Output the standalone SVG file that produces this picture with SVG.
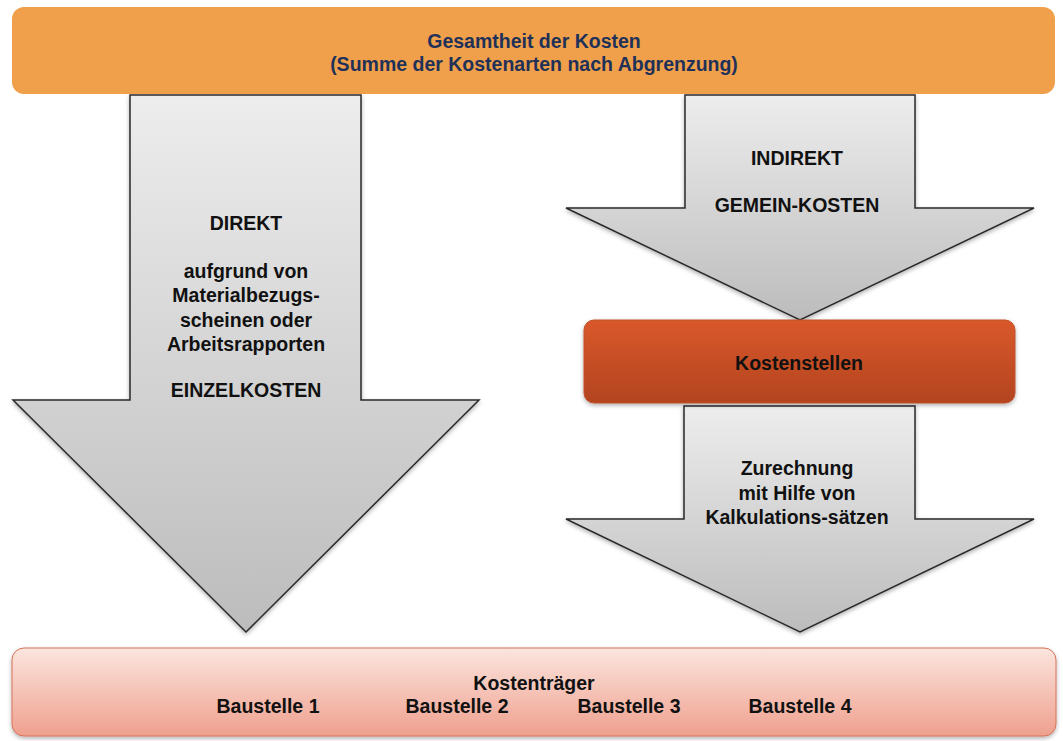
<svg xmlns="http://www.w3.org/2000/svg" width="1063" height="741" viewBox="0 0 1063 741">
<defs>
<linearGradient id="gArrow" x1="0" y1="0" x2="0" y2="1"><stop offset="0" stop-color="#EDEDED"/><stop offset="1" stop-color="#BCBCBC"/></linearGradient>
<linearGradient id="gKs" x1="0" y1="0" x2="0" y2="1"><stop offset="0" stop-color="#D9582B"/><stop offset="1" stop-color="#B3441F"/></linearGradient>
<linearGradient id="gKt" x1="0" y1="0" x2="0" y2="1"><stop offset="0" stop-color="#FBE5DE"/><stop offset="1" stop-color="#EFA08E"/></linearGradient>
<filter id="sh" x="-10%" y="-10%" width="120%" height="130%"><feDropShadow dx="0" dy="2" stdDeviation="2" flood-color="#000" flood-opacity="0.3"/></filter>
</defs>
<style>
.t{font-family:"Liberation Sans",Arial,sans-serif;font-weight:bold;font-size:19.5px;text-anchor:middle;fill:#111}
.top{fill:#1F3158}
.arrow{fill:url(#gArrow);stroke:#2a2a2a;stroke-width:1.5;filter:url(#sh)}
</style>
<rect width="1063" height="741" fill="#fff"/>
<g id="arrows">
<path class="arrow" d="M130,95 H361 V400 H479 L246,632 L13,400 H130 Z"/>
<path class="arrow" d="M685,95 H915 V208 H1034 L800,320 L566,208 H685 Z"/>
<path class="arrow" d="M684,406 H915 V519 H1034 L800,632 L566,519 H684 Z"/>
</g>
<g id="gesamt">
<rect x="12" y="7" width="1043" height="87" rx="12" fill="#F0A04B"/>
<text class="t top" x="534" y="48">Gesamtheit der Kosten</text>
<text class="t top" x="534" y="71">(Summe der Kostenarten nach Abgrenzung)</text>
</g>
<g id="direkt">
<text class="t" x="246" y="230">DIREKT</text>
<text class="t" x="246" y="278">aufgrund von</text>
<text class="t" x="246" y="302">Materialbezugs-</text>
<text class="t" x="246" y="327">scheinen oder</text>
<text class="t" x="246" y="351">Arbeitsrapporten</text>
<text class="t" x="246" y="397">EINZELKOSTEN</text>
</g>
<g id="indirekt">
<text class="t" x="797" y="165">INDIREKT</text>
<text class="t" x="797" y="212">GEMEIN-KOSTEN</text>
</g>
<g id="kostenstellen">
<rect x="584" y="320" width="431" height="83" rx="10" fill="url(#gKs)" stroke="#C0502A" stroke-width="1" filter="url(#sh)"/>
<text class="t" x="799" y="370">Kostenstellen</text>
</g>
<g id="zurechnung">
<text class="t" x="797" y="475">Zurechnung</text>
<text class="t" x="797" y="500">mit Hilfe von</text>
<text class="t" x="797" y="524">Kalkulations-sätzen</text>
</g>
<g id="kostentraeger">
<rect x="12" y="648" width="1044" height="88" rx="12" fill="url(#gKt)" stroke="#D4735A" stroke-width="1" filter="url(#sh)"/>
<text class="t" x="534" y="690">Kostenträger</text>
<text class="t" x="268" y="713">Baustelle 1</text>
<text class="t" x="457" y="713">Baustelle 2</text>
<text class="t" x="629" y="713">Baustelle 3</text>
<text class="t" x="800" y="713">Baustelle 4</text>
</g>
</svg>
